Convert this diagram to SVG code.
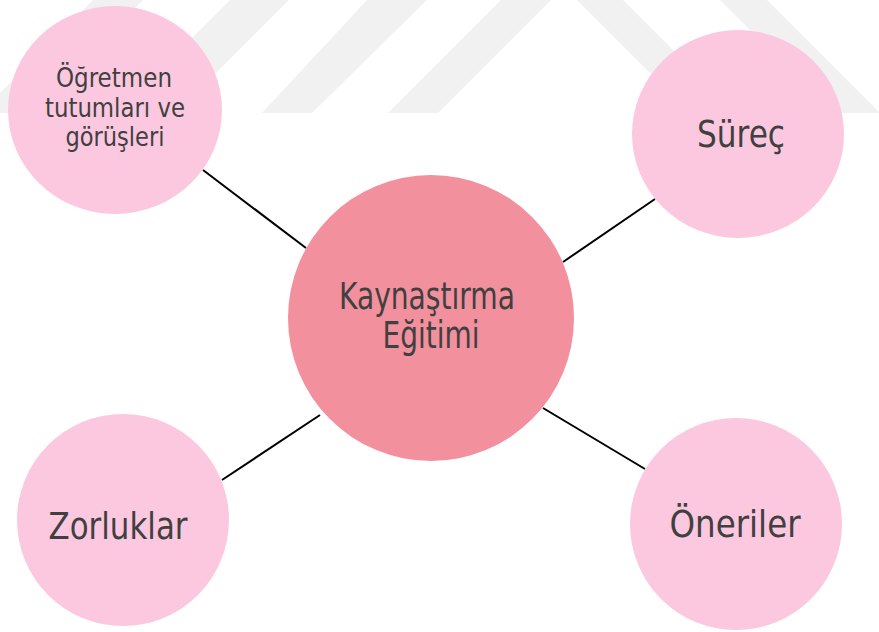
<svg xmlns="http://www.w3.org/2000/svg" width="879" height="632" viewBox="0 0 879 632">
  <style>
    .wm { fill: #f1f1f1; }
    .leaf { fill: #fcc8e0; }
    .hub { fill: #f2909e; }
    .lbl { font-family: "Liberation Sans Narrow", "DejaVu Sans Condensed", "Liberation Sans", sans-serif; fill: #404040; text-anchor: middle; }
    .conn { stroke: #000000; stroke-width: 2; fill: none; }
  </style>
  <rect width="879" height="632" fill="#ffffff"/>
  <g id="watermark">
    <polygon class="wm" points="93,0 143,0 30,113 -20,113"/>
    <polygon class="wm" points="230,0 289,0 176,113 117,113"/>
    <polygon class="wm" points="367,0 427,0 312,113 262,113"/>
    <polygon class="wm" points="501,0 551,0 438,113 388,113"/>
    <polygon class="wm" points="577,0 623,0 736,113 690,113"/>
    <polygon class="wm" points="720,0 767,0 880,113 833,113"/>
  </g>
  <g id="connectors">
    <line class="conn" x1="203" y1="170" x2="306" y2="248"/>
    <line class="conn" x1="563" y1="262" x2="655" y2="199"/>
    <line class="conn" x1="320" y1="415" x2="222" y2="480"/>
    <line class="conn" x1="543" y1="408" x2="645" y2="469"/>
  </g>
  <g id="node-center">
    <circle class="hub" cx="431" cy="318" r="143"/>
    <text class="lbl" x="427" y="309" font-size="37" textLength="176" lengthAdjust="spacingAndGlyphs">Kaynaştırma</text>
    <text class="lbl" x="431" y="348" font-size="37" textLength="97" lengthAdjust="spacingAndGlyphs">Eğitimi</text>
  </g>
  <g id="node-ogretmen">
    <ellipse class="leaf" cx="115" cy="110" rx="107" ry="104"/>
    <text class="lbl" x="114" y="87" font-size="27" textLength="116" lengthAdjust="spacingAndGlyphs">Öğretmen</text>
    <text class="lbl" x="115" y="117" font-size="27" textLength="140" lengthAdjust="spacingAndGlyphs">tutumları ve</text>
    <text class="lbl" x="115" y="146" font-size="27" textLength="99" lengthAdjust="spacingAndGlyphs">görüşleri</text>
  </g>
  <g id="node-surec">
    <ellipse class="leaf" cx="738" cy="134" rx="106" ry="104"/>
    <text class="lbl" x="741" y="147" font-size="38" textLength="88" lengthAdjust="spacingAndGlyphs">Süreç</text>
  </g>
  <g id="node-zorluklar">
    <circle class="leaf" cx="123" cy="520" r="106"/>
    <text class="lbl" x="118" y="539" font-size="38" textLength="139" lengthAdjust="spacingAndGlyphs">Zorluklar</text>
  </g>
  <g id="node-oneriler">
    <circle class="leaf" cx="736" cy="524" r="106"/>
    <text class="lbl" x="735" y="537" font-size="38" textLength="131" lengthAdjust="spacingAndGlyphs">Öneriler</text>
  </g>
</svg>
